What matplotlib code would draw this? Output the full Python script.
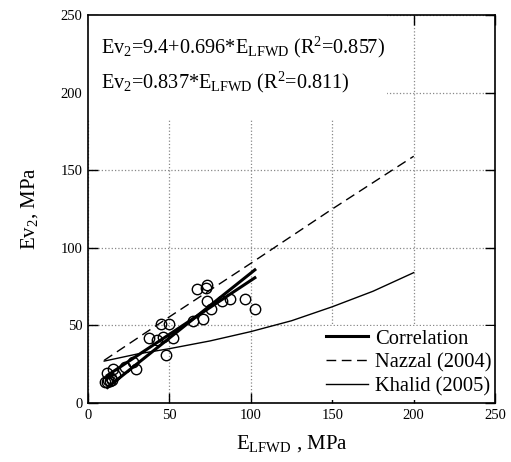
import matplotlib
matplotlib.use('Agg')
from matplotlib import pyplot as plt
from matplotlib.patches import Rectangle

plt.rcParams['font.family'] = ['Liberation Serif', 'DejaVu Serif']
plt.rcParams['mathtext.fontset'] = 'custom'
plt.rcParams['mathtext.rm'] = 'Liberation Serif'
plt.rcParams['mathtext.it'] = 'Liberation Serif'

# measured points (E_LFWD, Ev2)
e_lfwd = [10.5, 11.5, 12.5, 13.5, 15.0, 14.0, 11.5, 15.6, 16.6, 22.7, 27.8, 29.5,
          37.5, 42.2, 45.9, 44.8, 50.0, 47.7, 52.0, 64.7, 70.8, 66.7, 72.9,
          72.5, 72.9, 75.3, 82.1, 87.2, 96.4, 102.6]
ev2 = [13.7, 13.5, 14.8, 14.0, 14.5, 16.0, 19.6, 22.1, 18.0, 23.2, 26.4, 22.1,
       41.9, 40.8, 42.6, 50.7, 50.7, 30.7, 41.9, 52.9, 54.4, 73.5, 76.3,
       74.4, 65.8, 60.8, 65.8, 67.3, 67.3, 60.8]

# correlation lines
corr_x = [12, 102.5]
corr1_y = [17.8, 80.7]   # 9.4 + 0.696*E
corr2_y = [10.0, 85.8]   # 0.837*E

# earlier studies
nazzal_x = [10, 50, 100, 150, 200]
nazzal_y = [27.5, 55.5, 90.0, 125.0, 159.0]
khalid_x = [10, 30, 50, 75, 100, 125, 150, 175, 200]
khalid_y = [27.0, 31.5, 35.0, 40.0, 46.0, 53.0, 62.0, 72.0, 84.0]

fig = plt.figure(figsize=(5.11, 4.62), dpi=100)
ax = fig.add_axes([0.172, 0.1277, 0.797, 0.8398])

ax.set_xlim(0, 250)
ax.set_ylim(0, 250)
ax.set_xticks([0, 50, 100, 150, 200, 250])
ax.set_yticks([0, 50, 100, 150, 200, 250])
ax.tick_params(direction='in', length=7, width=1, top=True, right=True,
               labelsize=10.5, pad=4)
for s in ax.spines.values():
    s.set_linewidth(1.2)
ax.grid(True, color='#888888', linestyle=':', linewidth=0.9, zorder=0)
ax.set_axisbelow(True)

# white backdrop behind the equations
ax.add_patch(Rectangle((0, 0.729), 0.735, 0.271, transform=ax.transAxes,
                       facecolor='white', edgecolor='none', zorder=1))

ax.plot(e_lfwd, ev2, 'o', mfc='none', mec='black', ms=7.5, mew=1.0, zorder=3)
p_corr, = ax.plot(corr_x, corr1_y, color='black', lw=2.2, zorder=4)
ax.plot(corr_x, corr2_y, color='black', lw=2.2, zorder=4)
p_naz, = ax.plot(nazzal_x, nazzal_y, color='black', lw=1.0, ls=(0, (7, 4)), zorder=4)
p_kha, = ax.plot(khalid_x, khalid_y, color='black', lw=1.0, zorder=4)

ax.text(0.032, 0.902, r'Ev$_2$=9.4+0.696*E$_{\rm LFWD}$ (R$^2$=0.857)',
        transform=ax.transAxes, fontsize=14.6, zorder=5)
ax.text(0.032, 0.812, r'Ev$_2$=0.837*E$_{\rm LFWD}$ (R$^2$=0.811)',
        transform=ax.transAxes, fontsize=14.6, zorder=5)

leg = ax.legend((p_corr, p_naz, p_kha),
                ('Correlation', 'Nazzal (2004)', 'Khalid (2005)'),
                loc='lower right', bbox_to_anchor=(0.998, 0.009),
                fontsize=14.8, frameon=True, fancybox=False,
                edgecolor='none', facecolor='white', framealpha=1,
                handlelength=2.0, handletextpad=0.35, labelspacing=0.22,
                borderpad=0.15, borderaxespad=0.0)
leg.set_zorder(2)

ax.set_xlabel(r'E$_{\rm LFWD}$ , MPa', fontsize=15, labelpad=8)
ax.set_ylabel(r'Ev$_2$, MPa', fontsize=15, labelpad=15)

plt.savefig('out.png', dpi=100)
plt.close()
